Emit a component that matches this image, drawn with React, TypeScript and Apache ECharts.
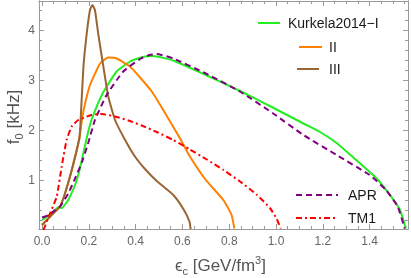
import React, { useEffect, useRef } from "react";
import * as echarts from "echarts";

const X_MIN = -0.013;
const X_MAX = 1.564;
const Y_MIN = 0.02;
const Y_MAX = 4.58;

const xMajor = [0, 0.2, 0.4, 0.6, 0.8, 1.0, 1.2, 1.4];
const xMinor = [0.05, 0.1, 0.15, 0.25, 0.3, 0.35, 0.45, 0.5, 0.55, 0.65, 0.7, 0.75, 0.85, 0.9, 0.95, 1.05, 1.1, 1.15, 1.25, 1.3, 1.35, 1.45, 1.5, 1.55];
const yMajor = [1, 2, 3, 4];
const yMinor = [0.2, 0.4, 0.6, 0.8, 1.2, 1.4, 1.6, 1.8, 2.2, 2.4, 2.6, 2.8, 3.2, 3.4, 3.6, 3.8, 4.2, 4.4];

const kurkelaI = [
  [0.0, 0.2], [0.03, 0.3], [0.055, 0.4], [0.072, 0.46], [0.085, 0.44], [0.1, 0.52], [0.112, 0.6],
  [0.141, 0.9], [0.162, 1.23], [0.177, 1.55], [0.198, 1.98], [0.215, 2.25], [0.26, 2.74], [0.319, 3.17],
  [0.376, 3.37], [0.43, 3.46], [0.474, 3.48], [0.56, 3.39], [0.7, 3.1], [0.846, 2.78], [0.99, 2.44],
  [1.117, 2.13], [1.188, 1.96], [1.259, 1.74], [1.33, 1.45], [1.43, 1.03], [1.487, 0.7], [1.53, 0.4], [1.555, 0.03],
];
const kurkelaII = [
  [0.0, 0.1], [0.041, 0.3], [0.077, 0.47], [0.098, 0.73], [0.127, 1.2], [0.16, 1.85], [0.172, 2.25],
  [0.185, 2.55], [0.205, 2.9], [0.248, 3.33], [0.283, 3.45], [0.319, 3.43], [0.376, 3.27], [0.419, 3.05],
  [0.469, 2.77], [0.518, 2.4], [0.561, 2.06], [0.59, 1.83], [0.632, 1.47], [0.7, 1.0], [0.775, 0.6],
  [0.81, 0.3], [0.822, 0.03],
];
const kurkelaIII = [
  [0.0, 0.1], [0.041, 0.3], [0.077, 0.47], [0.098, 0.73], [0.127, 1.2], [0.16, 1.85], [0.167, 2.4],
  [0.177, 3.27], [0.191, 3.93], [0.205, 4.4], [0.215, 4.5], [0.226, 4.4], [0.24, 3.93], [0.262, 3.27],
  [0.283, 2.67], [0.312, 2.2], [0.355, 1.8], [0.397, 1.47], [0.44, 1.22], [0.49, 0.98], [0.561, 0.7],
  [0.604, 0.42], [0.63, 0.17], [0.635, 0.02],
];
const apr = [
  [0.0, 0.25], [0.03, 0.3], [0.056, 0.4], [0.077, 0.47], [0.112, 0.73], [0.141, 1.03], [0.17, 1.35],
  [0.198, 1.75], [0.226, 2.2], [0.276, 2.7], [0.347, 3.17], [0.419, 3.42], [0.46, 3.5], [0.49, 3.52],
  [0.561, 3.43], [0.7, 3.13], [0.846, 2.77], [0.988, 2.33], [1.117, 1.9], [1.259, 1.5], [1.4, 1.1],
  [1.47, 0.8], [1.52, 0.47], [1.55, 0.03],
];
const tm1 = [
  [0.006, 0.0], [0.034, 0.33], [0.063, 0.67], [0.084, 1.27], [0.105, 1.8], [0.127, 2.07], [0.155, 2.2],
  [0.212, 2.3], [0.255, 2.32], [0.312, 2.27], [0.369, 2.19], [0.426, 2.09], [0.49, 1.96], [0.561, 1.8],
  [0.632, 1.61], [0.704, 1.41], [0.775, 1.2], [0.846, 0.97], [0.917, 0.71], [0.974, 0.44], [1.003, 0.22], [1.02, 0.03],
];

const FONT = "'Liberation Sans', Arial, sans-serif";
const AXIS_COLOR = "#9a9a9a";
const LABEL_COLOR = "#666";

const GREEN = "#22ee22";
const ORANGE = "#ff8000";
const BROWN = "#996633";
const PURPLE = "#800080";
const RED = "#ff0000";
const DASH = [6, 4];
const DASHDOT = [6, 3, 2, 3];

function xAxis(position: string, values: number[], len: number, labels: boolean) {
  return {
    type: "value", position, min: X_MIN, max: X_MAX,
    axisLine: { show: true, onZero: false, lineStyle: { color: AXIS_COLOR, width: 1 } },
    axisTick: { show: true, inside: true, length: len, customValues: values, lineStyle: { color: AXIS_COLOR } },
    axisLabel: labels
      ? { show: true, customValues: values, formatter: (v: number) => v.toFixed(1), color: LABEL_COLOR, fontSize: 12, fontFamily: FONT, margin: 6 }
      : { show: false },
    splitLine: { show: false },
  };
}
function yAxis(position: string, values: number[], len: number, labels: boolean) {
  return {
    type: "value", position, min: Y_MIN, max: Y_MAX,
    axisLine: { show: true, onZero: false, lineStyle: { color: AXIS_COLOR, width: 1 } },
    axisTick: { show: true, inside: true, length: len, customValues: values, lineStyle: { color: AXIS_COLOR } },
    axisLabel: labels
      ? { show: true, customValues: values, formatter: (v: number) => String(Math.round(v)), color: LABEL_COLOR, fontSize: 12, fontFamily: FONT, margin: 4 }
      : { show: false },
    splitLine: { show: false },
  };
}

function line(name: string, data: number[][], color: string, type: any, z: number) {
  return {
    name, type: "line", data, xAxisIndex: 0, yAxisIndex: 0, symbol: "none", showSymbol: false,
    smooth: 0.15, z, lineStyle: { color, width: 2, type },
  };
}

function legendItem(x1: number, x2: number, y: number, color: string, dash: any, tx: number, text: string) {
  return [
    { type: "line", shape: { x1, y1: y, x2, y2: y }, style: { stroke: color, lineWidth: 2, lineDash: dash } },
    { type: "text", x: tx, y, style: { text, fill: "#1a1a1a", fontSize: 14, fontFamily: FONT, verticalAlign: "middle", align: "left" } },
  ];
}

export default function App() {
  const ref = useRef<HTMLDivElement>(null);
  useEffect(() => {
    if (!ref.current) return;
    const chart = echarts.init(ref.current, undefined, { renderer: "svg" });
    const titleRich = {
      t: { fontSize: 17, fontFamily: FONT, fill: "#555", lineHeight: 22 },
      sub: { fontSize: 11, fontFamily: FONT, fill: "#555", verticalAlign: "bottom", lineHeight: 22 },
      sup: { fontSize: 11, fontFamily: FONT, fill: "#555", verticalAlign: "top", lineHeight: 22 },
    };
    chart.setOption({
      animation: false,
      grid: { left: 39, right: 3, top: 1, bottom: 49, containLabel: false },
      xAxis: [
        xAxis("bottom", xMajor, 5, true),
        xAxis("bottom", xMinor, 3, false),
        xAxis("top", xMajor, 5, false),
        xAxis("top", xMinor, 3, false),
      ],
      yAxis: [
        yAxis("left", yMajor, 5, true),
        yAxis("left", yMinor, 3, false),
        yAxis("right", yMajor, 5, false),
        yAxis("right", yMinor, 3, false),
      ],
      series: [
        line("Kurkela2014-I", kurkelaI, GREEN, "solid", 2),
        line("II", kurkelaII, ORANGE, "solid", 3),
        line("III", kurkelaIII, BROWN, "solid", 4),
        line("APR", apr, PURPLE, DASH, 5),
        line("TM1", tm1, RED, DASHDOT, 6),
      ],
      graphic: [
        ...legendItem(258, 280, 23, GREEN, null, 288, "Kurkela2014−I"),
        ...legendItem(299, 322, 47, ORANGE, null, 329, "II"),
        ...legendItem(297, 319, 69, BROWN, null, 329, "III"),
        ...legendItem(296, 338, 195, PURPLE, DASH, 348, "APR"),
        ...legendItem(296, 338, 218, RED, DASHDOT, 348, "TM1"),
        {
          type: "text", x: 175, y: 265,
          style: { text: "{t|ϵ}{sub|c}{t| [GeV/fm}{sup|3}{t|]}", rich: titleRich, align: "left", verticalAlign: "middle" },
        },
        {
          type: "text", x: 13, y: 117, rotation: Math.PI / 2,
          style: { text: "{t|f}{sub|0}{t| [kHz]}", rich: titleRich, align: "center", verticalAlign: "middle" },
        },
      ],
    });
    return () => chart.dispose();
  }, []);
  return <div ref={ref} style={{ position: "fixed", left: 0, top: 0, width: 411, height: 278 }} />;
}
